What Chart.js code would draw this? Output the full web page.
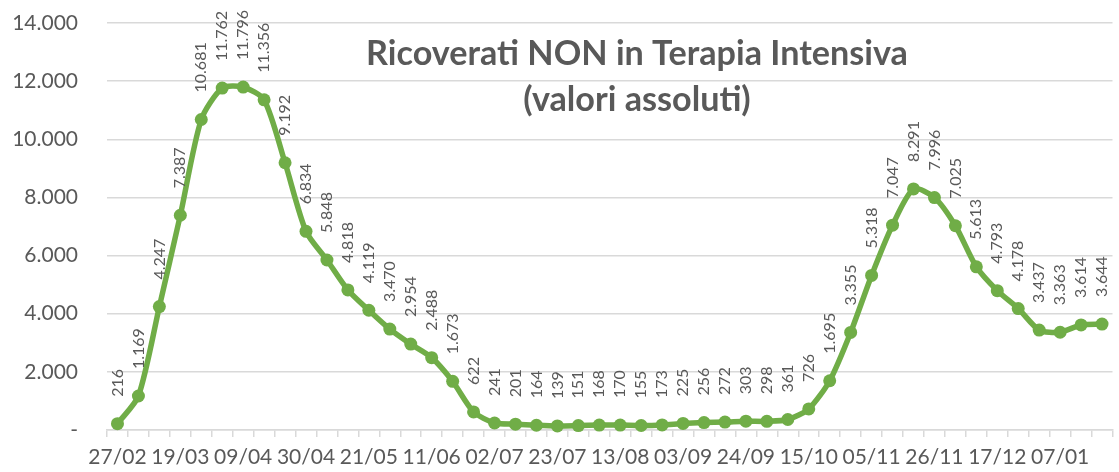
<!DOCTYPE html>
<html>
<head>
<meta charset="utf-8">
<script src="https://cdn.jsdelivr.net/npm/chart.js@4.4.1/dist/chart.umd.min.js"></script>
<style>
  html, body { margin: 0; padding: 0; background: #ffffff; }
  #wrap { width: 1119px; height: 472px; }
</style>
</head>
<body>
<div id="wrap"><canvas id="c" width="1119" height="472"></canvas></div>
<script>
const categories = [
  '27/02','05/03','12/03','19/03','26/03','02/04','09/04','16/04','23/04','30/04',
  '07/05','14/05','21/05','28/05','04/06','11/06','18/06','25/06','02/07','09/07',
  '16/07','23/07','30/07','06/08','13/08','20/08','27/08','03/09','10/09','17/09',
  '24/09','01/10','08/10','15/10','22/10','29/10','05/11','12/11','19/11','26/11',
  '03/12','10/12','17/12','24/12','31/12','07/01','14/01','21/01'
];
const ricoverati = [
  216, 1169, 4247, 7387, 10681, 11762, 11796, 11356, 9192, 6834,
  5848, 4818, 4119, 3470, 2954, 2488, 1673, 622, 241, 201,
  164, 139, 151, 168, 170, 155, 173, 225, 256, 272,
  303, 298, 361, 726, 1695, 3355, 5318, 7047, 8291, 7996,
  7025, 5613, 4793, 4178, 3437, 3363, 3614, 3644
];
const yTickValues = [0, 2000, 4000, 6000, 8000, 10000, 12000, 14000];
const titleLines = ['Ricoverati NON in Terapia Intensiva', '(valori assoluti)'];

const GREEN = '#70AD47';
const TEXT = '#595959';
const GRID = '#D9D9D9';

function fmt(v) {
  if (v === 0) return '-';
  return String(Math.round(v)).replace(/\B(?=(\d{3})+(?!\d))/g, '.');
}

const dataLabelPlugin = {
  id: 'dataLabels',
  afterDatasetsDraw(chart) {
    const ctx = chart.ctx;
    const meta = chart.getDatasetMeta(0);
    ctx.save();
    ctx.fillStyle = TEXT;
    ctx.font = '16px Lato';
    ctx.textAlign = 'left';
    ctx.textBaseline = 'middle';
    meta.data.forEach((pt, i) => {
      ctx.save();
      ctx.translate(pt.x, pt.y - 27);
      ctx.rotate(-Math.PI / 2);
      ctx.fillText(fmt(chart.data.datasets[0].data[i]), 0, 0);
      ctx.restore();
    });
    ctx.restore();
  }
};

const titlePlugin = {
  id: 'overlayTitle',
  afterDatasetsDraw(chart) {
    const ctx = chart.ctx;
    ctx.save();
    ctx.font = 'bold 34px Lato';
    const w = ctx.measureText(titleLines[0]).width;
    const size = 34 * 542 / w;
    ctx.font = 'bold ' + size.toFixed(2) + 'px Lato';
    ctx.fillStyle = TEXT;
    ctx.textAlign = 'center';
    ctx.textBaseline = 'alphabetic';
    ctx.fillText(titleLines[0], 637, 65);
    ctx.fillText(titleLines[1], 637, 111);
    ctx.restore();
  }
};

function build() {
  new Chart(document.getElementById('c'), {
    type: 'line',
    data: {
      labels: categories,
      datasets: [{
        data: ricoverati,
        borderColor: GREEN,
        backgroundColor: GREEN,
        borderWidth: 5.5,
        pointRadius: 6.5,
        pointBackgroundColor: GREEN,
        pointBorderWidth: 0,
        tension: 0.25,
        clip: false
      }]
    },
    options: {
      responsive: false,
      devicePixelRatio: 1,
      animation: false,
      layout: { padding: { top: 23, left: 0, right: 0, bottom: 0 } },
      plugins: { legend: { display: false }, tooltip: { enabled: false }, title: { display: false } },
      scales: {
        x: {
          offset: true,
          grid: { offset: true, drawOnChartArea: false, drawTicks: true, tickLength: 7, color: GRID, lineWidth: 1.5 },
          border: { display: true, color: GRID, width: 1.5 },
          ticks: {
            autoSkip: false, maxRotation: 0, minRotation: 0,
            color: TEXT, font: { family: 'Lato', size: 21 }, padding: 8,
            callback: (v, i) => (i % 3 === 0 ? categories[i] : '')
          },
          afterFit: s => { s.height = 42; }
        },
        y: {
          min: 0, max: 14000,
          afterBuildTicks: s => { s.ticks = yTickValues.map(v => ({ value: v })); },
          grid: { color: GRID, lineWidth: 1.5, drawTicks: true, tickLength: 29, tickColor: 'rgba(0,0,0,0)' },
          border: { display: false },
          ticks: { color: TEXT, font: { family: 'Lato', size: 21 }, padding: 0, callback: v => fmt(v) },
          afterFit: s => { s.width = 107; }
        }
      }
    },
    plugins: [dataLabelPlugin, titlePlugin]
  });
}

const fontLoads = [
  document.fonts.load('16px Lato'),
  document.fonts.load('21px Lato'),
  document.fonts.load('bold 34px Lato')
];
Promise.all(fontLoads).then(build, build);
</script>
</body>
</html>
